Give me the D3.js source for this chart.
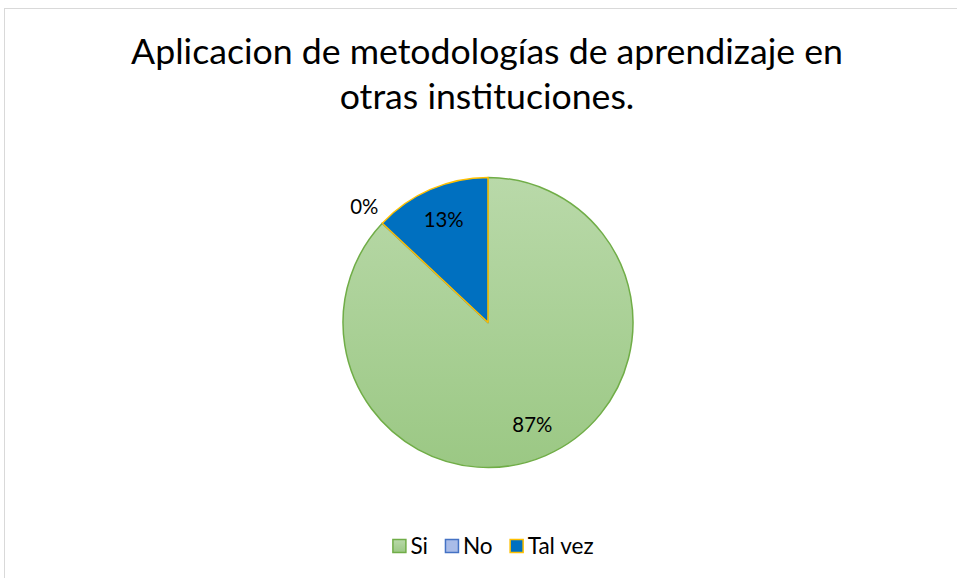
<!DOCTYPE html>
<html><head><meta charset="utf-8">
<script src="https://cdn.jsdelivr.net/npm/d3@7"></script>
<style>html,body{margin:0;padding:0;background:#fff;overflow:hidden}</style>
</head><body>
<svg id="c" width="957" height="578"></svg>
<script>
const titleLines = ["Aplicacion de metodologías de aprendizaje en", "otras instituciones."];
const categories = ["Si", "No", "Tal vez"];
const values = [87, 0, 13];
const fills = ["#A9D18E", "#A9BCE8", "#0070C0"];
const strokes = ["#70AD47", "#4472C4", "#FFC000"];

const svg = d3.select("#c");
const font = "Lato, 'Open Sans', sans-serif";

function fitSize(str, targetW, base) {
  const t = svg.append("text").attr("font-family", font).attr("font-size", base).text(str);
  const w = t.node().getComputedTextLength();
  t.remove();
  return base * targetW / w;
}

svg.append("rect").attr("x", 4.5).attr("y", 8.5).attr("width", 1200).attr("height", 1200)
  .attr("fill", "#fff").attr("stroke", "#D9D9D9").attr("stroke-width", 1);

const defs = svg.append("defs");
const g0 = defs.append("linearGradient").attr("id", "gSi").attr("x1", 0).attr("y1", 0).attr("x2", 0).attr("y2", 1);
g0.append("stop").attr("offset", 0).attr("stop-color", "#B9D9A9");
g0.append("stop").attr("offset", 1).attr("stop-color", "#9BC884");

// Title
const tcx = 487;
const fs = fitSize(titleLines[0], 712, 34);
svg.append("text").attr("x", tcx).attr("y", 64).attr("text-anchor", "middle")
  .attr("font-family", font).attr("font-size", fs).attr("fill", "#000").text(titleLines[0]);
svg.append("text").attr("x", tcx).attr("y", 109).attr("text-anchor", "middle")
  .attr("font-family", font).attr("font-size", fs).attr("fill", "#000").text(titleLines[1]);

// Pie
const cx = 488, cy = 322.5, R = 145;
const pie = d3.pie().sort(null).value(d => d.v);
const data = pie(categories.map((c, i) => ({c, v: values[i], i})));
const arc = d3.arc().innerRadius(0).outerRadius(R);
const labelArc = d3.arc().innerRadius(R * 0.77).outerRadius(R * 0.77);
const outArc = d3.arc().innerRadius(R * 1.17).outerRadius(R * 1.17);
const pg = svg.append("g").attr("transform", `translate(${cx},${cy})`);
pg.selectAll("path").data(data).enter().append("path")
  .attr("d", arc)
  .attr("fill", d => d.index === 0 ? "url(#gSi)" : fills[d.index])
  .attr("stroke", d => strokes[d.index]).attr("stroke-width", 1.5)
  .attr("stroke-linejoin", "round");

const total = d3.sum(values);
const lfs = fitSize("13%", 40, 20);
pg.selectAll("text").data(data).enter().append("text")
  .attr("transform", d => {
    const [x, y] = (d.value === 0 ? outArc : labelArc).centroid(d);
    return `translate(${x},${y})`;
  })
  .attr("text-anchor", "middle").attr("dy", "0.35em")
  .attr("font-family", font).attr("font-size", lfs).attr("fill", "#000")
  .text(d => Math.round(d.value / total * 100) + "%");

// Legend
const lg = svg.append("g");
const gfs = fitSize("Tal vez", 66, 20);
const sq = 13, gap = 5, spacing = 17, ly = 546;
let x = 0;
categories.forEach((c, i) => {
  const g = lg.append("g");
  g.append("rect").attr("x", 0.5).attr("y", -sq / 2).attr("width", sq).attr("height", sq)
    .attr("fill", i === 0 ? "url(#gSi)" : fills[i]).attr("stroke", strokes[i]).attr("stroke-width", 1.5);
  const t = g.append("text").attr("x", sq + gap).attr("y", 0).attr("dy", "0.35em")
    .attr("font-family", font).attr("font-size", gfs).attr("fill", "#000").text(c);
  const wi = sq + gap + t.node().getComputedTextLength();
  g.attr("transform", `translate(${x},0)`);
  x += wi + spacing;
});
const lw = x - spacing;
lg.attr("transform", `translate(${493 - lw / 2},${ly})`);
</script>
</body></html>
